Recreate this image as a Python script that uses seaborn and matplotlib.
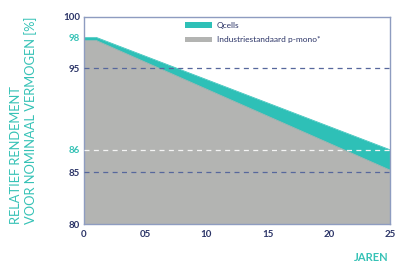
import numpy as np
import seaborn as sns
import matplotlib.pyplot as plt
from matplotlib.patches import Patch

# Data
years = [0, 1, 25]
qcells = [98, 98, 86]
industry = [97.7, 97.7, 85.1]
y_ticks = [80, 85, 86, 95, 98, 100]
x_ticks = [0, 5, 10, 15, 20, 25]
x_tick_labels = ["0", "05", "10", "15", "20", "25"]
series_labels = ["Qcells", "Industriestandaard p-mono*"]

teal = "#2EC0B7"
grey = "#B3B4B2"
navy = "#2B3467"
teal_text = "#36C2B6"
spine_col = "#8E9CC0"

sns.set_theme(style="white")
plt.rcParams["font.family"] = ["Lato", "DejaVu Sans"]

# the original y axis is not linear: 86 sits higher than it should,
# so use a piecewise scale that puts each tick where the picture has it
knot_vals = [80, 85, 86, 95, 100]
knot_pos = [0, 52, 74.6, 156, 207.6]


def fwd(v):
    return np.interp(v, knot_vals, knot_pos)


def inv(p):
    return np.interp(p, knot_pos, knot_vals)


fig = plt.figure(figsize=(3.97, 2.63), dpi=100)
ax = fig.add_axes([84 / 397, (263 - 224.3) / 263, 306 / 397, 207.6 / 263])
ax.set_yscale("function", functions=(fwd, inv))

ax.fill_between(years, 80, qcells, color=teal, linewidth=0, zorder=1)
ax.fill_between(years, 80, industry, color=grey, linewidth=0, zorder=2)
sns.lineplot(x=years, y=qcells, color=teal, linewidth=0.5, ax=ax, zorder=1)
sns.lineplot(x=years, y=industry, color=grey, linewidth=0.5, ax=ax, zorder=2)

dash = (0, (4, 3.5))
ax.axhline(95, color="#56679C", lw=0.9, ls=dash, zorder=3)
ax.axhline(85, color="#56679C", lw=0.9, ls=dash, zorder=3)
ax.axhline(86, color="#F4F4F4", lw=0.9, ls=dash, zorder=3)

ax.set_xlim(0, 25)
ax.set_ylim(80, 100)
ax.set_xticks(x_ticks)
ax.set_xticklabels(x_tick_labels)
ax.set_yticks(y_ticks)
ax.set_yticklabels([str(t) for t in y_ticks])
ax.tick_params(axis="both", length=0, labelsize=7)
ax.tick_params(axis="y", pad=3)
ax.tick_params(axis="x", pad=4)
for lab in ax.get_xticklabels():
    lab.set_color(navy)
    lab.set_fontweight("bold")
for lab, t in zip(ax.get_yticklabels(), y_ticks):
    lab.set_fontweight("bold")
    lab.set_color(teal_text if t in (86, 98) else navy)

for s in ax.spines.values():
    s.set_color(spine_col)
    s.set_linewidth(1)

ax.set_ylabel("RELATIEF RENDEMENT\nVOOR NOMINAAL VERMOGEN [%]",
              color=teal_text, fontsize=9.3, fontweight="normal",
              multialignment="left", linespacing=1.2)
ax.yaxis.set_label_coords(-0.154, 0.5)
ax.set_xlabel("JAREN", color=teal_text, fontsize=8, fontweight="bold", loc="right")
ax.xaxis.set_label_coords(0.995, -0.135)

handles = [Patch(facecolor=teal, edgecolor="none"),
           Patch(facecolor=grey, edgecolor="none")]
leg = ax.legend(handles, series_labels, loc="upper left",
                bbox_to_anchor=(0.33, 0.975), frameon=False,
                fontsize=6, borderpad=0, borderaxespad=0,
                handlelength=3.2, handleheight=0.6, handletextpad=0.6,
                labelspacing=0.9)
for t in leg.get_texts():
    t.set_color(navy)

fig.savefig("out.png", dpi=100)
